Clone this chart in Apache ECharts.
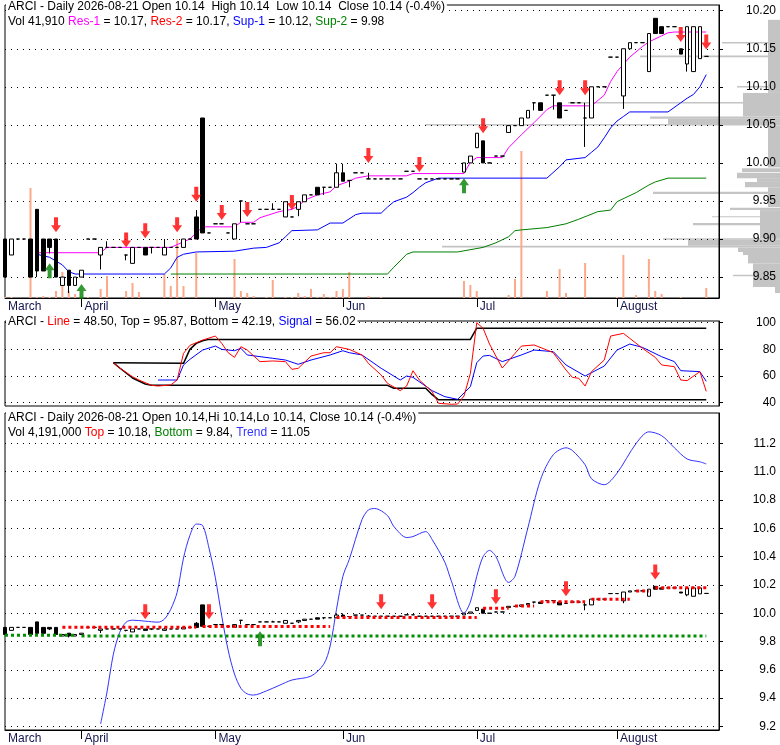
<!DOCTYPE html>
<html>
<head>
<meta charset="utf-8">
<title>ARCI - Daily</title>
<script src="https://cdn.jsdelivr.net/npm/echarts@6/dist/echarts.min.js"></script>
<style>
    html, body { margin: 0; padding: 0; background: #fff; }
    #mainChart { width: 780px; height: 745px; }
</style>
</head>
<body>
<div id="mainChart"></div>
<script>
// trading calendar
const firstDay = '2026-03-16';
const lastDay = '2026-08-21';
const holidays = ['2026-04-03', '2026-05-25', '2026-06-19', '2026-07-03'];
const monthNames = {3: 'March', 4: 'April', 5: 'May', 6: 'Jun', 7: 'Jul', 8: 'August'};

// tick labels
const priceTicks = [9.85, 9.90, 9.95, 10.00, 10.05, 10.10, 10.15, 10.20];
const oscTicks = [40, 60, 80, 100];
const lowerTicks = [9.2, 9.4, 9.6, 9.8, 10.0, 10.2, 10.4, 10.6, 10.8, 11.0, 11.2];

// daily bars: [open, high, low, close]
const ohlc = [
    // March
    [9.90, 9.90, 9.85, 9.85], [9.879, 9.90, 9.879, 9.90], [9.90, 9.90, 9.90, 9.90], [9.90, 9.90, 9.90, 9.90],
    [9.90, 9.90, 9.85, 9.85], [9.939, 9.939, 9.85, 9.858], [9.90, 9.90, 9.858, 9.858], [9.90, 9.90, 9.881, 9.889],
    [9.90, 9.90, 9.85, 9.85], [9.839, 9.85, 9.839, 9.85], [9.859, 9.859, 9.829, 9.839], [9.839, 9.85, 9.839, 9.85],
    // April
    [9.85, 9.859, 9.85, 9.859], [9.90, 9.90, 9.90, 9.90], [9.90, 9.90, 9.90, 9.90], [9.879, 9.889, 9.86, 9.889],
    [9.889, 9.897, 9.889, 9.889], [9.889, 9.889, 9.889, 9.889], [9.889, 9.889, 9.889, 9.889], [9.879, 9.879, 9.872, 9.879],
    [9.868, 9.889, 9.868, 9.889], [9.889, 9.889, 9.889, 9.889], [9.889, 9.889, 9.879, 9.879], [9.889, 9.889, 9.881, 9.889],
    [9.889, 9.889, 9.889, 9.889], [9.879, 9.90, 9.879, 9.889], [9.889, 9.889, 9.889, 9.889], [9.889, 9.889, 9.889, 9.889],
    [9.889, 9.90, 9.889, 9.90], [9.90, 9.90, 9.90, 9.90], [9.929, 9.938, 9.90, 9.90], [10.059, 10.059, 9.908, 9.908],
    [9.908, 9.908, 9.908, 9.908],
    // May
    [9.92, 9.92, 9.92, 9.92], [9.92, 9.92, 9.92, 9.92], [9.908, 9.908, 9.908, 9.908], [9.90, 9.92, 9.90, 9.92],
    [9.95, 9.95, 9.922, 9.95], [9.92, 9.92, 9.92, 9.92], [9.92, 9.92, 9.92, 9.92], [9.939, 9.939, 9.939, 9.939],
    [9.939, 9.939, 9.939, 9.939], [9.939, 9.947, 9.939, 9.939], [9.939, 9.939, 9.939, 9.939], [9.929, 9.949, 9.929, 9.949],
    [9.929, 9.929, 9.929, 9.929], [9.939, 9.949, 9.93, 9.949], [9.949, 9.958, 9.949, 9.958], [9.958, 9.958, 9.958, 9.958],
    [9.968, 9.968, 9.958, 9.958], [9.968, 9.968, 9.958, 9.968], [9.968, 9.968, 9.968, 9.968], [9.968, 9.999, 9.968, 9.987],
    // June
    [9.987, 9.999, 9.976, 9.976], [9.977, 9.977, 9.968, 9.977], [9.987, 9.987, 9.987, 9.987], [9.987, 9.987, 9.987, 9.987],
    [9.979, 9.987, 9.979, 9.979], [9.979, 9.979, 9.979, 9.979], [9.979, 9.979, 9.979, 9.979], [9.979, 9.979, 9.979, 9.979],
    [9.979, 9.979, 9.979, 9.979], [9.979, 9.979, 9.979, 9.979], [9.989, 9.989, 9.989, 9.989], [9.989, 9.989, 9.989, 9.989],
    [9.979, 9.979, 9.979, 9.979], [9.979, 9.979, 9.979, 9.979], [9.979, 9.979, 9.979, 9.979], [9.979, 9.979, 9.979, 9.979],
    [9.979, 9.979, 9.979, 9.979], [9.979, 9.979, 9.979, 9.979], [9.979, 9.979, 9.979, 9.979], [9.988, 10.0, 9.988, 10.0],
    [10.0, 10.009, 10.0, 10.009],
    // July
    [10.02, 10.039, 10.02, 10.039], [10.029, 10.029, 10.0, 10.0], [10.0, 10.0, 10.0, 10.0], [10.009, 10.009, 10.009, 10.009],
    [10.009, 10.009, 10.009, 10.009], [10.04, 10.049, 10.04, 10.049], [10.049, 10.049, 10.049, 10.049], [10.049, 10.059, 10.049, 10.059],
    [10.059, 10.069, 10.059, 10.069], [10.079, 10.079, 10.069, 10.079], [10.079, 10.079, 10.069, 10.069], [10.089, 10.089, 10.089, 10.089],
    [10.089, 10.089, 10.07, 10.089], [10.079, 10.079, 10.059, 10.059], [10.069, 10.069, 10.069, 10.069], [10.079, 10.079, 10.079, 10.079],
    [10.079, 10.079, 10.079, 10.079], [10.059, 10.079, 10.021, 10.059], [10.059, 10.10, 10.059, 10.10], [10.10, 10.10, 10.10, 10.10],
    [10.10, 10.10, 10.10, 10.10], [10.139, 10.139, 10.139, 10.139],
    // August
    [10.139, 10.139, 10.139, 10.139], [10.088, 10.15, 10.071, 10.15], [10.15, 10.158, 10.15, 10.158], [10.158, 10.158, 10.158, 10.158],
    [10.158, 10.158, 10.158, 10.158], [10.12, 10.17, 10.12, 10.17], [10.19, 10.19, 10.17, 10.17], [10.179, 10.179, 10.17, 10.17],
    [10.179, 10.179, 10.179, 10.179], [10.179, 10.179, 10.179, 10.179], [10.15, 10.15, 10.143, 10.143], [10.13, 10.179, 10.12, 10.179],
    [10.12, 10.179, 10.12, 10.179], [10.137, 10.179, 10.137, 10.179], [10.14, 10.14, 10.14, 10.14]
];

// volume, thousands of shares
const volume = [
    1, 1, 0, 0, 110, 1, 2, 1, 7, 26, 7, 4,
    0, 1, 0, 9, 22, 0, 0, 7, 15, 6, 0, 0, 0, 24, 12, 59, 12, 0, 45, 0, 0,
    0, 0, 0, 39, 7, 5, 2, 0, 1, 18, 0, 1, 1, 5, 2, 9, 1, 4, 1, 7,
    9, 26, 0, 0, 2, 0, 1, 0, 0, 0, 0, 0, 0, 0, 0, 0, 0, 0, 0, 17, 13,
    7, 0, 0, 0, 0, 3, 19, 147, 0, 0, 0, 7, 0, 29, 5, 0, 0, 35, 0, 0, 0, 0,
    1, 43, 0, 3, 0, 39, 7, 4, 0, 0, 1, 0, 0, 0, 10
];
const volumeMax = 293;

// volume at price: [low price, high price, length]
const profile = [
    [10.105, 10.188, 12], [10.157, 10.159, 58], [10.139, 10.141, 140], [10.092, 10.105, 12],
    [10.099, 10.101, 43], [10.061, 10.092, 37], [10.078, 10.080, 212], [10.058, 10.061, 130],
    [10.050, 10.058, 112], [10.049, 10.051, 355], [9.994, 10.049, 12], [9.988, 9.993, 38],
    [9.980, 9.987, 43], [9.975, 9.980, 23], [9.968, 9.975, 35], [9.942, 9.968, 12],
    [9.959, 9.962, 127], [9.938, 9.941, 50], [9.901, 9.938, 20], [9.929, 9.930, 68],
    [9.918, 9.921, 87], [9.899, 9.901, 117], [9.891, 9.899, 92], [9.889, 9.891, 338],
    [9.883, 9.889, 42], [9.879, 9.883, 37], [9.868, 9.879, 32], [9.837, 9.868, 27],
    [9.851, 9.853, 47], [9.829, 9.837, 5]
];

// support / resistance, [bar, price]
const res1 = [[5, 9.882], [15, 9.882], [16, 9.889], [26, 9.889], [29, 9.90], [30, 9.908], [31, 9.916], [36, 9.916],
    [37, 9.922], [39, 9.922], [40, 9.928], [43, 9.936], [45, 9.939], [46, 9.943], [47, 9.951], [49, 9.958],
    [51, 9.962], [52, 9.970], [54, 9.976], [55, 9.980], [57, 9.983], [63, 9.983], [64, 9.986], [72, 9.986],
    [73, 10.001], [74, 10.007], [78, 10.007], [79, 10.020], [81, 10.037], [83, 10.053], [85, 10.070], [86, 10.075],
    [92, 10.075], [94, 10.089], [95, 10.107], [96, 10.120], [98, 10.139], [100, 10.153], [101, 10.159],
    [103, 10.167], [104, 10.171], [105, 10.172], [110, 10.172]];
const sup1 = [[5, 9.880], [7, 9.876], [9, 9.866], [10, 9.857], [11, 9.854], [25, 9.854], [26, 9.862], [27, 9.876],
    [28, 9.880], [30, 9.883], [36, 9.884], [39, 9.888], [41, 9.889], [43, 9.895], [44, 9.903], [45, 9.911],
    [49, 9.912], [51, 9.921], [53, 9.921], [55, 9.932], [56, 9.934], [59, 9.934], [60, 9.942], [61, 9.949],
    [63, 9.955], [64, 9.961], [65, 9.968], [66, 9.974], [68, 9.980], [85, 9.980], [87, 9.995], [88, 10.004],
    [91, 10.007], [92, 10.014], [93, 10.021], [94, 10.033], [95, 10.046], [96, 10.055], [97, 10.061], [98, 10.067],
    [104, 10.067], [106, 10.079], [107, 10.085], [108, 10.090], [109, 10.100], [110, 10.116]];
const sup2 = [[26, 9.854], [60, 9.854], [61, 9.863], [63, 9.880], [64, 9.883], [71, 9.883], [75, 9.889], [77, 9.895],
    [79, 9.903], [80, 9.911], [81, 9.912], [85, 9.915], [88, 9.920], [90, 9.926], [93, 9.936], [95, 9.938],
    [96, 9.949], [99, 9.961], [101, 9.971], [102, 9.975], [104, 9.980], [110, 9.980]];

// signal arrows, [bar, price at the tip]
const mainDown = [[8, 9.909], [19, 9.889], [22, 9.901], [27, 9.909], [30, 9.949], [34, 9.925], [38, 9.929],
    [45, 9.938], [57, 10.0], [65, 9.988], [75, 10.039], [87, 10.089], [91, 10.089], [106, 10.159], [110, 10.149]];
const mainUp = [[7, 9.868], [12, 9.841], [72, 9.98]];

// oscillator panel, [bar, value]
const oscLine = [[17, 70], [18, 66], [20, 59.5], [21, 57], [23, 53], [24, 52.5], [26, 53.3], [27, 57], [28, 77],
    [29, 83], [31, 87], [33, 90], [34, 84.5], [35, 77.5], [36, 74], [37, 82], [38, 79.5], [40, 70.8], [42, 71.3],
    [44, 70.8], [45, 65], [46, 65.8], [48, 75], [50, 77.5], [51, 77.5], [52, 82], [54, 80], [56, 75.8], [57, 69.5],
    [59, 60.8], [60, 54.5], [62, 49], [63, 52.5], [64, 64], [65, 57], [67, 48.3], [68, 39.5], [70, 38.8], [71, 39],
    [72, 45], [73, 62], [74, 100], [75, 95.8], [76, 84], [78, 66], [80, 77], [81, 82.5], [83, 83.3], [85, 79.5],
    [86, 77.5], [88, 64.5], [89, 59], [90, 58.3], [91, 52.5], [92, 63.3], [94, 72], [95, 90], [97, 92], [98, 88.3],
    [100, 80.8], [102, 74], [103, 68.3], [105, 67], [106, 57], [107, 56.5], [109, 63.3], [110, 48.5]];
const oscSignal = [[24, 57], [27, 57], [28, 68.3], [29, 72.5], [31, 79.5], [33, 82.5], [34, 80], [36, 79], [37, 80.8],
    [38, 75.8], [42, 73.3], [44, 72], [46, 68.8], [48, 72], [51, 75.8], [53, 79], [54, 77.5], [56, 75.8], [59, 65.8],
    [62, 57], [63, 60], [64, 59], [67, 49], [69, 44.5], [71, 42.5], [73, 52], [74, 70], [75, 75], [76, 75.5],
    [78, 70.8], [81, 75.8], [83, 79.5], [86, 78.3], [88, 68.3], [91, 60], [94, 67.5], [96, 79.5], [98, 84],
    [100, 81.5], [103, 74.5], [105, 70.8], [106, 64], [109, 63.3], [110, 56]];
const oscTop = [[17, 70], [28, 69.5], [29, 80], [30, 84.5], [31, 86.5], [32, 87.5], [73, 87.5], [74, 95.87], [110, 95.87]];
const oscBottom = [[17, 70], [18, 66], [20, 58.5], [22, 54], [23, 53], [60, 53], [61, 50.8], [66, 50.8], [67, 46],
    [68, 42.19], [110, 42.19]];

// lower panel: [first bar, last bar, level]
const topLevels = [[9, 30, 9.901], [31, 51, 9.906], [52, 74, 9.97], [75, 79, 10.035], [80, 83, 10.051],
    [84, 91, 10.082], [92, 98, 10.099], [99, 101, 10.157], [102, 110, 10.181]];
const bottomLevels = [[0, 11, 9.845], [12, 110, 9.84]];
const trend = [[15, 9.218], [16, 9.444], [17, 9.711], [18, 9.866], [19, 9.937], [20, 9.951], [22, 9.944], [24, 9.937],
    [25, 9.958], [26, 10.028], [27, 10.148], [28, 10.39], [29, 10.55], [30, 10.63], [31, 10.62], [32, 10.46],
    [33, 10.25], [34, 9.98], [35, 9.74], [36, 9.57], [37, 9.47], [38, 9.43], [39, 9.422], [41, 9.451], [43, 9.49],
    [45, 9.528], [48, 9.556], [50, 9.64], [51, 9.768], [52, 10.028], [53, 10.261], [54, 10.38], [56, 10.662],
    [57, 10.73], [58, 10.74], [60, 10.69], [61, 10.613], [63, 10.535], [64, 10.542], [66, 10.577], [67, 10.521],
    [69, 10.36], [70, 10.23], [72, 10.0], [73, 10.08], [74, 10.261], [75, 10.401], [76, 10.444], [77, 10.401],
    [79, 10.218], [80, 10.261], [82, 10.6], [84, 10.944], [86, 11.12], [88, 11.169], [89, 11.15], [91, 11.049],
    [92, 10.95], [94, 10.908], [96, 10.99], [99, 11.2], [101, 11.282], [103, 11.255], [105, 11.169], [107, 11.09],
    [109, 11.07], [110, 11.055]];
const lowerDown = [[22, 9.958], [32, 9.958], [59, 10.028], [67, 10.028], [77, 10.063], [88, 10.12], [102, 10.239]];
const lowerUp = [[40, 9.873]];

const fontFamily = 'Liberation Sans, Arial, sans-serif';
const downArrow = 'path://M3,0L7,0L7,8L10,8L5,15L0,8L3,8Z';
const upArrow = 'path://M5,0L10,7L7,7L7,15L3,15L3,7L0,7Z';

function tradingDays(from, to) {
    const days = [];
    const d = new Date(from + 'T00:00:00Z');
    const end = new Date(to + 'T00:00:00Z');
    while (d <= end) {
        const wd = d.getUTCDay();
        const s = d.toISOString().slice(0, 10);
        if (wd !== 0 && wd !== 6 && holidays.indexOf(s) < 0) {
            days.push(s);
        }
        d.setUTCDate(d.getUTCDate() + 1);
    }
    return days;
}

const dates = tradingDays(firstDay, lastDay);
const categories = dates.concat(['', '']);
const monthStart = [];
dates.forEach(function (s, i) {
    if (i === 0 || s.slice(5, 7) !== dates[i - 1].slice(5, 7)) {
        monthStart.push(i);
    }
});

function txt(extra) {
    return Object.assign({
        fontSize: 12, fontWeight: 'normal', color: '#000', fontFamily: fontFamily, lineHeight: 13
    }, extra || {});
}

const rich = {
    m: txt({color: '#ff00ff'}),
    r: txt({color: '#ff0000'}),
    b: txt({color: '#0000ff'}),
    g: txt({color: '#008000'}),
    t: txt({color: '#3333ff'})
};

function monthAxis(gridIndex) {
    return {
        type: 'category',
        gridIndex: gridIndex,
        data: categories,
        boundaryGap: false,
        axisLine: {show: true, lineStyle: {color: '#000'}},
        axisTick: {
            show: true, length: 9, lineStyle: {color: '#000'},
            interval: function (i) { return monthStart.indexOf(i) > 0; }
        },
        axisLabel: {
            interval: function (i) { return monthStart.indexOf(i) >= 0; },
            formatter: function (v) { return monthNames[+v.slice(5, 7)] || ''; },
            align: 'left', margin: 3, padding: [0, 0, 0, 3],
            color: '#141450', fontSize: 12, fontFamily: fontFamily
        },
        splitLine: {show: false}
    };
}

function rightAxis(gridIndex, min, max, ticks, digits) {
    return {
        type: 'value',
        gridIndex: gridIndex,
        position: 'right',
        min: min,
        max: max,
        z: 2,
        axisLine: {show: true, lineStyle: {color: '#000'}},
        axisTick: {show: true, length: 4, customValues: ticks, lineStyle: {color: '#000'}},
        axisLabel: {
            customValues: ticks, align: 'right', margin: 57,
            color: '#000', fontSize: 12, fontFamily: fontFamily,
            formatter: function (v) { return v.toFixed(digits); }
        },
        splitLine: {show: true, lineStyle: {color: '#000', type: [1, 5], width: 1}}
    };
}

function path(xi, yi, data, color, width, extra) {
    return Object.assign({
        type: 'line', xAxisIndex: xi, yAxisIndex: yi, data: data,
        symbol: 'none', showSymbol: false, silent: true, z: 3,
        lineStyle: {color: color, width: width}
    }, extra || {});
}

function arrows(xi, yi, data, up) {
    return {
        type: 'scatter', xAxisIndex: xi, yAxisIndex: yi, data: data, silent: true, z: 6,
        symbol: up ? upArrow : downArrow,
        symbolSize: [10, 15],
        symbolOffset: [0, up ? '50%' : '-50%'],
        itemStyle: {color: up ? '#008000' : '#ff0000'}
    };
}

function levelLine(levels) {
    const out = [];
    levels.forEach(function (s) {
        out.push([s[0], s[2]], [s[1], s[2]], [s[1], null]);
    });
    return out;
}

function candles(xi, yi) {
    return {
        type: 'candlestick', xAxisIndex: xi, yAxisIndex: yi, z: 4, clip: false, silent: true,
        barWidth: 4,
        data: ohlc.map(function (b) { return [b[0], b[3], b[2], b[1]]; }),
        itemStyle: {color: '#fff', color0: '#000', borderColor: '#000', borderColor0: '#000', borderWidth: 1}
    };
}

function renderProfile(params, api) {
    const top = api.coord([api.value(2), api.value(1)]);
    const bottom = api.coord([0, api.value(0)]);
    return {
        type: 'rect',
        shape: {x: top[0], y: top[1], width: bottom[0] - top[0], height: Math.max(1, bottom[1] - top[1])},
        style: {fill: '#c4c4c4'}
    };
}

const option = {
    animation: false,
    backgroundColor: '#fff',
    textStyle: {fontFamily: fontFamily},
    title: [
        {
            left: 6, top: 0, padding: [0, 2], backgroundColor: '#fff', z: 8,
            text: 'ARCI - Daily 2026-08-21 Open 10.14  High 10.14  Low 10.14  Close 10.14 (-0.4%)',
            textStyle: txt()
        },
        {
            left: 8, top: 15, padding: 0, z: 8,
            text: 'Vol 41,910 {m|Res-1} = 10.17, {r|Res-2} = 10.17, {b|Sup-1} = 10.12, {g|Sup-2} = 9.98',
            textStyle: txt({rich: rich})
        },
        {
            left: 6, top: 315, padding: [0, 2], backgroundColor: '#fff', z: 8,
            text: 'ARCI - {r|Line} = 48.50, Top = 95.87, Bottom = 42.19, {b|Signal} = 56.02',
            textStyle: txt({rich: rich})
        },
        {
            left: 6, top: 411, padding: [0, 2], backgroundColor: '#fff', z: 8,
            text: 'ARCI - Daily 2026-08-21 Open 10.14,Hi 10.14,Lo 10.14, Close 10.14 (-0.4%)',
            textStyle: txt()
        },
        {
            left: 8, top: 426, padding: 0, z: 8,
            text: 'Vol 4,191,000 {r|Top} = 10.18, {g|Bottom} = 9.84, {t|Trend} = 11.05',
            textStyle: txt({rich: rich})
        }
    ],
    grid: [
        {left: 5, right: 61, top: 5, height: 293, show: true, borderColor: '#000', borderWidth: 1},
        {left: 0, right: 0, top: 5, height: 293},
        {left: 5, right: 61, top: 321, height: 85, show: true, borderColor: '#000', borderWidth: 1},
        {left: 5, right: 61, top: 413, height: 318, show: true, borderColor: '#000', borderWidth: 1}
    ],
    xAxis: [
        monthAxis(0),
        {type: 'value', gridIndex: 1, min: 0, max: 780, inverse: true, show: false},
        Object.assign(monthAxis(2), {show: false}),
        monthAxis(3)
    ],
    yAxis: [
        rightAxis(0, 9.8225, 10.2075, priceTicks, 2),
        {type: 'value', gridIndex: 0, min: 0, max: volumeMax, show: false},
        {type: 'value', gridIndex: 1, min: 9.8225, max: 10.2075, show: false},
        rightAxis(2, 37.5, 101.3, oscTicks, 0),
        rightAxis(3, 9.175, 11.415, lowerTicks, 1)
    ],
    series: [
        {
            type: 'custom', xAxisIndex: 1, yAxisIndex: 2, z: -1, silent: true,
            encode: {x: 2, y: [0, 1]},
            renderItem: renderProfile,
            data: profile
        },
        {
            type: 'bar', xAxisIndex: 0, yAxisIndex: 1, data: volume, barWidth: 2, z: 2, silent: true,
            itemStyle: {color: '#fca88a'}
        },
        path(0, 0, sup2, '#008000', 1),
        path(0, 0, sup1, '#0000ff', 1),
        path(0, 0, res1, '#ff00ff', 1),
        candles(0, 0),
        arrows(0, 0, mainDown, false),
        arrows(0, 0, mainUp, true),

        path(2, 3, oscTop, '#000', 1.5),
        path(2, 3, oscBottom, '#000', 1.5),
        path(2, 3, oscSignal, '#0000ff', 1),
        path(2, 3, oscLine, '#ff0000', 1),

        path(3, 4, trend, '#3333ff', 1, {smooth: 0.3}),
        candles(3, 4),
        path(3, 4, levelLine(bottomLevels), '#009000', 3, {
            z: 5, lineStyle: {color: '#009000', width: 3, type: [3, 3], cap: 'butt'}
        }),
        path(3, 4, levelLine(topLevels), '#ff0000', 3, {
            z: 5, lineStyle: {color: '#ff0000', width: 3, type: [3, 3], cap: 'butt'}
        }),
        arrows(3, 4, lowerDown, false),
        arrows(3, 4, lowerUp, true)
    ]
};

const myChart = echarts.init(document.getElementById('mainChart'));
myChart.setOption(option);
</script>
</body>
</html>
